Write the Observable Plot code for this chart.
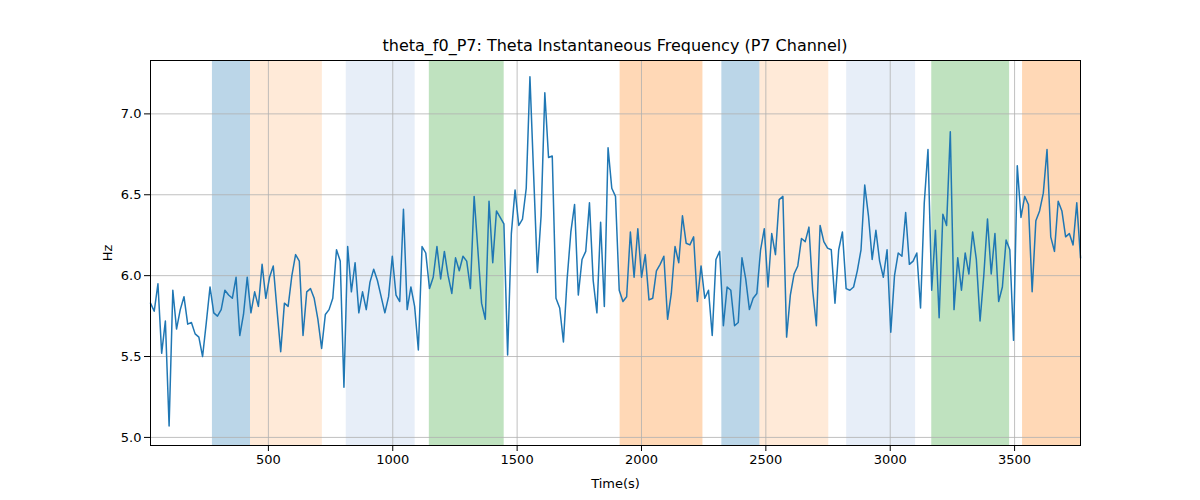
<!DOCTYPE html>
<html>
<head>
<meta charset="utf-8">
<script src="https://cdn.jsdelivr.net/npm/d3@7"></script>
<script src="https://cdn.jsdelivr.net/npm/@observablehq/plot@0.6"></script>
<style>
  body { margin: 0; background: #fff; font-family: "DejaVu Sans", sans-serif; }
  #title { height: 54px; padding-top: 36px; box-sizing: border-box; line-height: 20px; text-align: center; font-size: 16px; padding-left: 30px; }
</style>
</head>
<body>
<div id="title">theta_f0_P7: Theta Instantaneous Frequency (P7 Channel)</div>
<div id="chart"></div>
<script>
const tStart = 26, tEnd = 3765;
const freq = [
  5.83, 5.78, 5.95, 5.52, 5.72, 5.07, 5.91, 5.67, 5.79, 5.87, 5.70, 5.71, 5.64, 5.62, 5.50, 5.71,
  5.93, 5.77, 5.75, 5.79, 5.91, 5.88, 5.86, 5.99, 5.63, 5.76, 5.99, 5.77, 5.90, 5.81, 6.07, 5.86,
  5.99, 6.06, 5.79, 5.53, 5.83, 5.81, 6.00, 6.13, 6.09, 5.63, 5.90, 5.92,
  5.86, 5.73, 5.55, 5.76, 5.79, 5.86, 6.16, 6.09, 5.31, 6.18, 5.90, 6.08, 5.77, 5.90, 5.79, 5.96,
  6.04, 5.97, 5.87, 5.77, 5.87, 6.12, 5.88, 5.84, 6.41, 5.79, 5.93, 5.81, 5.54, 6.18, 6.14, 5.92,
  5.99, 6.18, 5.98, 6.15, 6.00, 5.89, 6.11, 6.03, 6.12, 6.09,
  5.92, 6.49, 6.16, 5.83, 5.73, 6.46, 6.08, 6.40, 6.36, 6.32, 5.51, 6.26, 6.53, 6.31, 6.35, 6.54,
  7.23, 6.62, 6.02, 6.37, 7.13, 6.73, 6.74, 5.86, 5.80, 5.59, 5.98, 6.27, 6.44, 5.88, 6.10, 6.15,
  6.45, 5.97, 5.77, 6.33, 5.81, 6.79, 6.54, 6.49, 5.91,
  5.84, 5.87, 6.27, 5.99, 6.29, 5.99, 6.13, 5.85, 5.86, 6.03, 6.07, 6.12, 5.73, 5.89, 6.18, 6.08,
  6.37, 6.20, 6.19, 6.24, 5.84, 6.06, 5.86, 5.91, 5.63, 6.10, 6.15, 5.69, 5.93, 5.91, 5.69, 5.71,
  6.11, 5.98, 5.79, 5.86, 5.89, 6.16, 6.29, 5.93, 6.26, 6.13,
  6.47, 6.49, 5.62, 5.88, 6.01, 6.06, 6.23, 6.21, 6.30, 5.91, 5.69, 6.31, 6.21, 6.17, 6.16, 5.83,
  6.16, 6.27, 5.92, 5.91, 5.93, 6.03, 6.16, 6.56, 6.37, 6.10, 6.28, 6.09, 5.99, 6.16, 5.65, 6.00,
  6.14, 6.12, 6.39, 6.07, 6.09, 6.14, 5.80, 6.45, 6.78,
  5.91, 6.28, 5.74, 6.38, 6.31, 6.89, 5.79, 6.11, 5.91, 6.14, 6.01, 6.27, 6.10, 5.72, 6.00, 6.35,
  6.01, 6.26, 5.84, 5.93, 6.22, 6.16, 5.60, 6.68, 6.36, 6.49, 6.44, 5.90, 6.34, 6.40, 6.51, 6.78,
  6.24, 6.15, 6.46, 6.40, 6.24, 6.26, 6.19, 6.45, 6.11
];
const step = (tEnd - tStart) / (freq.length - 1);
const times = freq.map((_, i) => tStart + i * step);
const series = freq.map((v, i) => ({ t: times[i], hz: v }));

// shaded epochs
const bandStart = [275, 428, 813, 1147, 1914, 2323, 2476, 2825, 3167, 3532];
const bandEnd   = [428, 717, 1090, 1448, 2247, 2476, 2753, 3102, 3480, 3765];
const bandColor = ["#1f77b4", "#ff7f0e", "#aec7e8", "#2ca02c", "#ff7f0e", "#1f77b4", "#ff7f0e", "#aec7e8", "#2ca02c", "#ff7f0e"];
const bandOpacity = [0.3, 0.16, 0.3, 0.3, 0.3, 0.3, 0.16, 0.3, 0.3, 0.3];
const bands = bandStart.map((s, i) => ({ x1: s, x2: bandEnd[i], color: bandColor[i], op: bandOpacity[i] }));

const xTicks = [500, 1000, 1500, 2000, 2500, 3000, 3500];
const yTicks = [5.0, 5.5, 6.0, 6.5, 7.0];

const plot = Plot.plot({
  width: 1200,
  height: 446,
  marginTop: 6,
  marginLeft: 150,
  marginRight: 120,
  marginBottom: 55,
  style: { fontFamily: "DejaVu Sans", fontSize: "13px", color: "#000" },
  x: { domain: [tStart, tEnd], ticks: xTicks, tickFormat: d3.format("d"), label: "Time(s)", labelArrow: "none", labelAnchor: "center", labelOffset: 42 },
  y: { domain: [4.95, 7.33], ticks: yTicks, tickFormat: d3.format(".1f"), label: "Hz", labelArrow: "none", labelAnchor: "center", labelOffset: 48 },
  marks: [
    bands.map(b => Plot.rectX([b], { x1: "x1", x2: "x2", fill: b.color, fillOpacity: b.op })),
    Plot.gridX(xTicks, { stroke: "#b0b0b0", strokeOpacity: 1, strokeWidth: 0.8 }),
    Plot.gridY(yTicks, { stroke: "#b0b0b0", strokeOpacity: 1, strokeWidth: 0.8 }),
    Plot.line(series, { x: "t", y: "hz", stroke: "#1f77b4", strokeWidth: 1.5 }),
    Plot.frame({ stroke: "#000" })
  ]
});
document.getElementById("chart").appendChild(plot);
</script>
</body>
</html>
